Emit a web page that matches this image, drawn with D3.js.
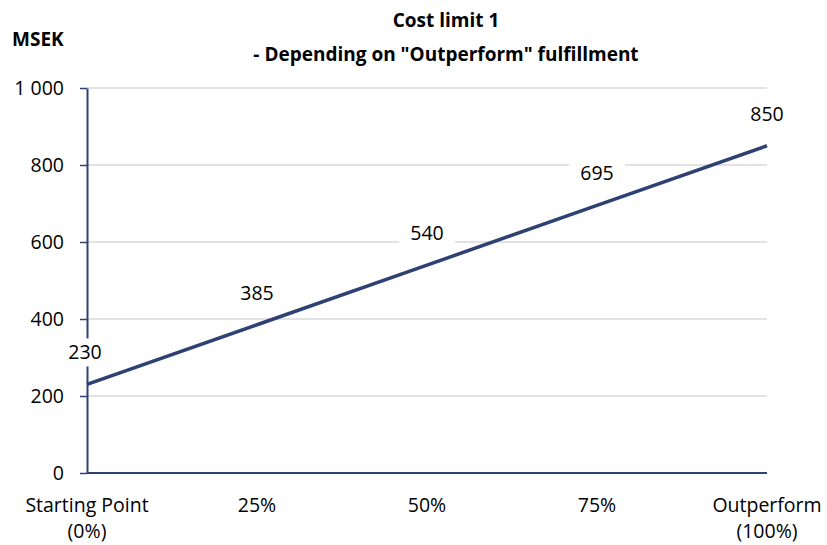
<!DOCTYPE html>
<html>
<head>
<meta charset="utf-8">
<script src="https://cdn.jsdelivr.net/npm/d3@7"></script>
<style>
  body { margin: 0; background: #fff; }
  text { font-family: "Open Sans", "Noto Sans", sans-serif; fill: #000; }
</style>
</head>
<body>
<div id="chart"></div>
<script>
// Chart data
const categories = [["Starting Point", "(0%)"], ["25%"], ["50%"], ["75%"], ["Outperform", "(100%)"]];
const values = [230, 385, 540, 695, 850];
const yTicks = [0, 200, 400, 600, 800, 1000];
const yTickLabels = ["0", "200", "400", "600", "800", "1 000"];

const width = 827, height = 545;
const margin = { top: 88, right: 60, bottom: 72, left: 87 };
const navy = "#2E4173";
const fs = "19.5px";

const svg = d3.select("#chart")
    .append("svg")
    .attr("width", width)
    .attr("height", height);

const x = d3.scalePoint()
    .domain(d3.range(categories.length))
    .range([margin.left, width - margin.right]);

const y = d3.scaleLinear()
    .domain([0, 1000])
    .range([height - margin.bottom, margin.top]);

// gridlines
svg.append("g")
    .selectAll("line")
    .data(yTicks.filter(d => d > 0))
    .enter()
    .append("line")
    .attr("x1", margin.left)
    .attr("x2", width - margin.right)
    .attr("y1", d => y(d))
    .attr("y2", d => y(d))
    .attr("stroke", "#D9D9D9")
    .attr("stroke-width", 1.3);

// y axis
const yAxis = svg.append("g")
    .attr("transform", `translate(${margin.left},0)`)
    .call(d3.axisLeft(y).tickValues(yTicks).tickFormat((d, i) => yTickLabels[i]).tickSize(7).tickSizeOuter(0));
yAxis.select(".domain").attr("stroke", navy).attr("stroke-width", 2);
yAxis.selectAll(".tick line").attr("stroke", navy).attr("stroke-width", 1.5);
yAxis.selectAll(".tick text")
    .attr("x", -23)
    .attr("dy", "0.35em")
    .style("font-size", fs);

// x axis line
svg.append("line")
    .attr("x1", margin.left)
    .attr("x2", width - margin.right)
    .attr("y1", y(0))
    .attr("y2", y(0))
    .attr("stroke", navy)
    .attr("stroke-width", 2);

// x category labels
const xl = svg.append("g")
    .selectAll("text")
    .data(categories)
    .enter()
    .append("text")
    .attr("text-anchor", "middle")
    .style("font-size", fs);
xl.selectAll("tspan")
    .data((d, i) => d.map(s => ({ s, i })))
    .enter()
    .append("tspan")
    .attr("x", d => x(d.i))
    .attr("y", (d, j) => y(0) + 39 + j * 26)
    .text(d => d.s);

// line
const line = d3.line()
    .x((d, i) => x(i))
    .y(d => y(d));

svg.append("path")
    .datum(values)
    .attr("d", line)
    .attr("fill", "none")
    .attr("stroke", navy)
    .attr("stroke-width", 3.5);

// data labels with white boxes
const lab = svg.append("g")
    .selectAll("g")
    .data(values)
    .enter()
    .append("g")
    .attr("transform", (d, i) => `translate(${x(i) - (i === 0 ? 2 : 0)},${y(d) - 32})`);
lab.append("rect")
    .attr("x", -28)
    .attr("y", -14)
    .attr("width", 56)
    .attr("height", 28)
    .attr("fill", "#fff");
lab.append("text")
    .attr("text-anchor", "middle")
    .attr("dy", "0.35em")
    .style("font-size", fs);
lab.select("text").text(d => d);

// titles
svg.append("text")
    .attr("x", 446)
    .attr("y", 27)
    .attr("text-anchor", "middle")
    .style("font-size", "19px")
    .style("font-weight", "bold")
    .text("Cost limit 1");
svg.append("text")
    .attr("x", 446)
    .attr("y", 61)
    .attr("text-anchor", "middle")
    .style("font-size", "19px")
    .style("font-weight", "bold")
    .text("- Depending on \"Outperform\" fulfillment");
svg.append("text")
    .attr("x", 12)
    .attr("y", 46)
    .style("font-size", "19px")
    .style("font-weight", "bold")
    .text("MSEK");
</script>
</body>
</html>
